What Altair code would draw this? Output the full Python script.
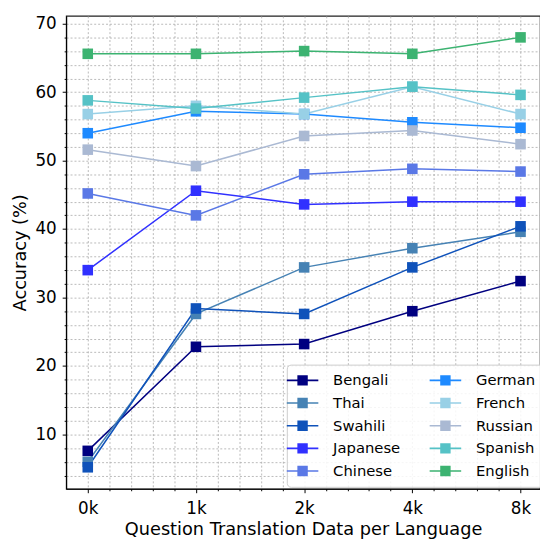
import json
import altair as alt
import pandas as pd

steps = ["0k", "1k", "2k", "4k", "8k"]
languages = ["Bengali", "Thai", "Swahili", "Japanese", "Chinese",
             "German", "French", "Russian", "Spanish", "English"]
colors = ["#000080", "#4682B4", "#0F52BA", "#3030FF", "#5A78E6",
          "#1E8AFF", "#98D0E6", "#AAB9D3", "#55C2C6", "#3CB371"]

bengali = [7.6, 22.8, 23.2, 28.0, 32.4]
thai = [6.0, 27.6, 34.4, 37.2, 39.6]
swahili = [5.2, 28.4, 27.6, 34.4, 40.4]
japanese = [34.0, 45.6, 43.6, 44.0, 44.0]
chinese = [45.2, 42.0, 48.0, 48.8, 48.4]
german = [54.0, 57.2, 56.8, 55.6, 54.8]
french = [56.8, 58.0, 56.8, 60.8, 56.8]
russian = [51.6, 49.2, 53.6, 54.4, 52.4]
spanish = [58.8, 57.6, 59.2, 60.8, 59.6]
english = [65.6, 65.6, 66.0, 65.6, 68.0]

series = [bengali, thai, swahili, japanese, chinese,
          german, french, russian, spanish, english]

rows = []
for li, (lang, vals) in enumerate(zip(languages, series)):
    for xi, v in enumerate(vals):
        rows.append({"idx": xi, "step": steps[xi], "lang": lang, "acc": v, "ord": li})
df = pd.DataFrame(rows)

FONT = "DejaVu Sans"

x_vals = [round(i * 0.2, 1) for i in range(0, 21)]
y_vals = list(range(4, 71, 2))

label_expr = ("abs(datum.value - round(datum.value)) < 0.001 ? "
              + json.dumps(steps) + "[round(datum.value)] : ''")

xaxis = alt.Axis(
    values=x_vals,
    labelExpr=label_expr,
    labelOverlap=False,
    tickSize={"condition": {"test": "abs(datum.value - round(datum.value)) < 0.001", "value": 4}, "value": 2},
    labelFontSize=17,
    titleFontSize=18,
    labelPadding=8,
    titlePadding=4,
)
yaxis = alt.Axis(
    values=y_vals,
    labelExpr="datum.value % 10 == 0 ? datum.label : ''",
    labelOverlap=False,
    tickSize={"condition": {"test": "datum.value % 10 == 0", "value": 4}, "value": 2},
    labelFontSize=17,
    titleFontSize=18,
    labelPadding=6,
    titlePadding=6,
)

# horizontal line segment (thin filled bar) plus a square marker
sym_path = "M-2,-0.1H2V0.1H-2ZM-0.66,-0.66H0.66V0.66H-0.66Z"

legend = alt.Legend(
    title=None,
    orient="none",
    legendX=224,
    legendY=354,
    columns=2,
    symbolType=sym_path,
    symbolSize=256,
    symbolStrokeWidth=0,
    symbolOpacity=1,
    labelFontSize=15,
    labelFont=FONT,
    labelColor="black",
    labelOffset=23,
    columnPadding=29,
    rowPadding=7,
    padding=8,
    fillColor="rgba(255,255,255,0.85)",
    strokeColor="#cccccc",
    cornerRadius=4,
)

base = alt.Chart(df).encode(
    x=alt.X("idx:Q", scale=alt.Scale(domain=[-0.2, 4.18], nice=False, zero=False),
            axis=xaxis, title="Question Translation Data per Language"),
    y=alt.Y("acc:Q", scale=alt.Scale(domain=[2.06, 71.14], nice=False, zero=False),
            axis=yaxis, title="Accuracy (%)"),
    color=alt.Color("lang:N", scale=alt.Scale(domain=languages, range=colors),
                    legend=legend),
)

lines = base.mark_line(strokeWidth=1.5).encode(order="idx:Q")
points = base.mark_point(shape="square", filled=True, size=115, opacity=1).encode(
    order=alt.Order("ord:Q")
)

chart = alt.layer(lines, points).properties(
    width=481,
    height=480,
    autosize=alt.AutoSizeParams(type="none"),
    padding={"left": 59, "top": 4, "right": 0, "bottom": 49},
).configure_view(
    stroke="#222222", strokeWidth=1.2
).configure_axis(
    labelFont=FONT,
    titleFont=FONT,
    labelColor="black",
    titleColor="black",
    titleFontWeight="normal",
    tickColor="black",
    domainColor="black",
    domainWidth=1.2,
    gridColor="#a8a8a8",
    gridDash=[2, 2],
    gridWidth=0.8,
)

chart.save("out.html", embed_options={"renderer": "svg", "actions": False})
